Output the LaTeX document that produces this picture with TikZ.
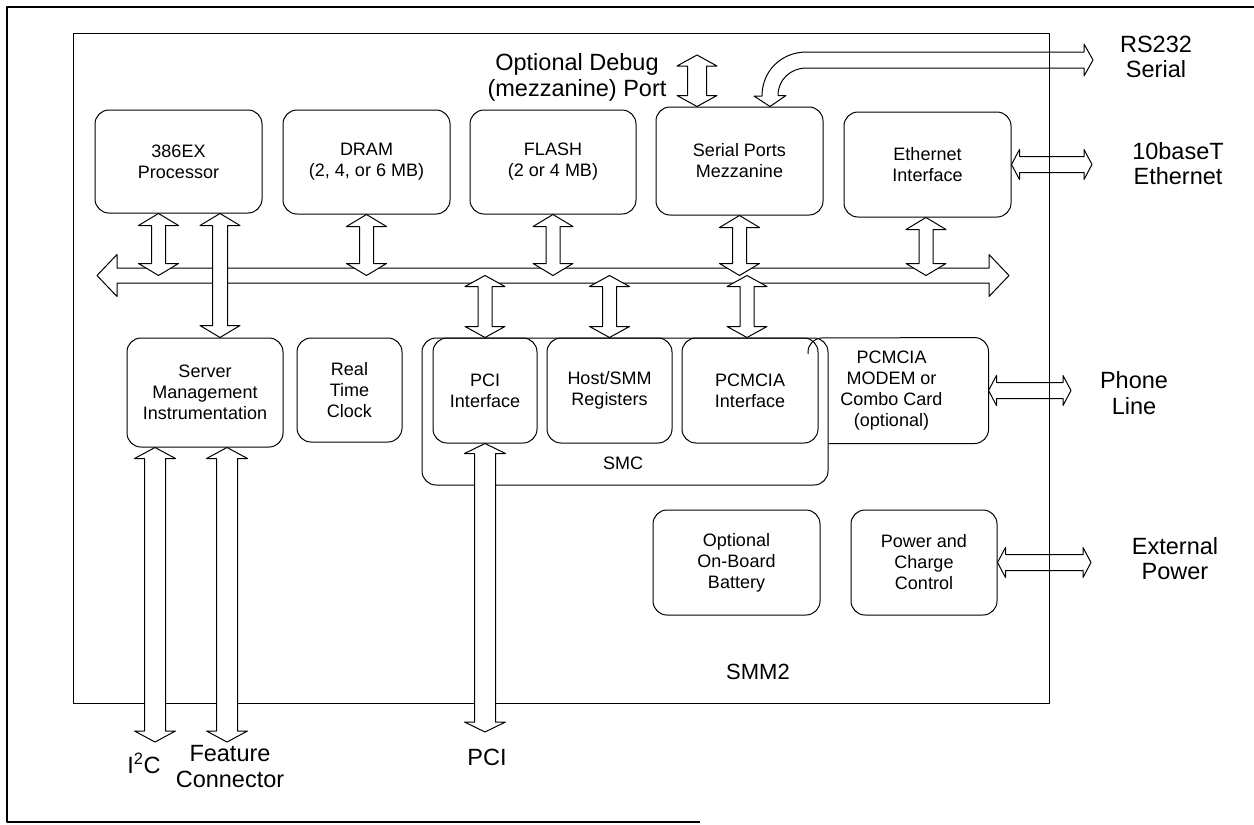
\documentclass[tikz,border=0pt]{standalone}
\usepackage{fontspec}
\setmainfont{Liberation Sans}
\usetikzlibrary{calc}
\newcommand\boxfont{\fontsize{18}{21}\selectfont}
\newcommand\bigfont{\fontsize{23.5}{25.5}\selectfont}
% vertical double hollow arrow: #2 top point (gives x and y), #3 bottom point (gives y)
% #4 shaft half width, #5 head half width, #6 head length
\newcommand\vbiarrow[6][]{\draw[hollow,#1] let \p1=#2, \p2=#3 in
  (\x1,\y1) -- (\x1+#5pt,\y1-#6pt) -- (\x1+#4pt,\y1-#6pt) -- (\x1+#4pt,\y2+#6pt)
  -- (\x1+#5pt,\y2+#6pt) -- (\x1,\y2) -- (\x1-#5pt,\y2+#6pt) -- (\x1-#4pt,\y2+#6pt)
  -- (\x1-#4pt,\y1-#6pt) -- (\x1-#5pt,\y1-#6pt) -- cycle;}
% horizontal double hollow arrow: #2 left point (gives x and y), #3 right point (gives x)
\newcommand\hbiarrow[6][]{\draw[hollow,#1] let \p1=#2, \p2=#3 in
  (\x1,\y1) -- (\x1+#6pt,\y1+#5pt) -- (\x1+#6pt,\y1+#4pt) -- (\x2-#6pt,\y1+#4pt)
  -- (\x2-#6pt,\y1+#5pt) -- (\x2,\y1) -- (\x2-#6pt,\y1-#5pt) -- (\x2-#6pt,\y1-#4pt)
  -- (\x1+#6pt,\y1-#4pt) -- (\x1+#6pt,\y1-#5pt) -- cycle;}
\begin{document}
\begin{tikzpicture}[x=1pt,y=-1pt,line join=round,
  box/.style={draw,line width=1pt,rounded corners=14pt,align=center,font=\boxfont,inner sep=0pt},
  lbl/.style={align=center,font=\bigfont,inner sep=0pt},
  hollow/.style={draw,line width=1pt,fill=white},
  open/.style={fill=none}]
\useasboundingbox (0,0) rectangle (1254,825);
% outer scan frame
\draw[line width=2pt] (1254,7) -- (7,7) -- (7,822) -- (700,822);
% SMM2 frame
\node[draw,line width=1pt,minimum width=976pt,minimum height=670pt,inner sep=0pt] (frame) at (561,368) {};
\node[lbl,font=\fontsize{22}{24}\selectfont] (smm2) at (758,672) {SMM2};

% top row
\node[box,minimum width=167pt,minimum height=103pt] (cpu) at (178.5,161.5) {386EX\\Processor};
\node[box,minimum width=167pt,minimum height=104pt] (dram) at (366.5,162) {DRAM\\(2, 4, or 6 MB)};
\node[box,minimum width=166pt,minimum height=104pt] (flash) at (553,162) {FLASH\\(2 or 4 MB)};
\node[box,minimum width=167pt,minimum height=108pt] (serial) at (739.5,161) {Serial Ports\\Mezzanine};
\node[box,minimum width=167pt,minimum height=105pt] (eth) at (927.5,164.5) {Ethernet\\Interface};

% second row
\node[box,minimum width=156pt,minimum height=109pt] (smi) at (205,392.5) {Server\\Management\\Instrumentation};
\node[box,minimum width=105pt,minimum height=104pt] (rtc) at (349.5,390) {Real\\Time\\Clock};
\node[box,minimum width=406pt,minimum height=147pt] (smc) at (625,411.5) {};
\node[font=\boxfont,inner sep=0pt] (smclabel) at (623,463) {SMC};
\node[box,minimum width=104pt,minimum height=105pt] (pci) at (485,390.5) {PCI\\Interface};
\node[box,minimum width=125pt,minimum height=105pt] (host) at (609.5,390.5) {Host/SMM\\Registers};
\node[box,minimum width=136pt,minimum height=105pt] (pcm) at (750,390.5) {PCMCIA\\Interface};
\node[box,draw=none,minimum width=193pt,minimum height=105pt] (modem) at (891.5,390.5) {PCMCIA\\MODEM or\\Combo Card\\(optional)};
\draw[line width=1pt,rounded corners=14pt] (smc.east |- modem.south) -- (modem.south east) -- (modem.north east) -- (808,338) -- (808,354);

% third row
\node[box,minimum width=167pt,minimum height=105pt] (bat) at (736.5,562.5) {Optional\\On-Board\\Battery};
\node[box,minimum width=146pt,minimum height=105pt] (pwr) at (924,562.5) {Power and\\Charge\\Control};

% external labels
\node[lbl] (debug) at (577,77.5) {Optional Debug\\(mezzanine) Port};
\node[lbl] (rs232) at (1156,57) {RS232\\Serial};
\node[lbl] (ethl) at (1178,163.5) {10baseT\\Ethernet};
\node[lbl] (phone) at (1134,393) {Phone\\Line};
\node[lbl] (extp) at (1175,558.5) {External\\Power};
\node[lbl] (i2c) at (144,763) {I\textsuperscript{2}C};
\node[lbl] (feat) at (230,766.5) {Feature\\Connector};
\node[lbl] (pcil) at (487,757) {PCI};

% free ends
\coordinate (busL) at (97,275.5);
\coordinate (busR) at (1009,275.5);
\coordinate (dbgTop) at (697,55);
\coordinate (i2cEnd) at (155,742);
\coordinate (featEnd) at (227,742);
\coordinate (pciEnd) at (484,732);

% internal bus
\hbiarrow{(busL)}{(busR)}{7.5}{21}{20}
% box <-> bus
\vbiarrow{([xshift=-20pt]cpu.south)}{(busL)}{7}{20}{12}
\vbiarrow{(dram.south)}{(busL)}{7}{20}{12}
\vbiarrow{(flash.south)}{(busL)}{7}{20}{12}
\vbiarrow{(serial.south)}{(busL)}{7}{20}{12}
\vbiarrow{([xshift=-1.5pt]eth.south)}{(busL)}{7}{20}{12}
\vbiarrow{(pci.north |- busL)}{(pci.north)}{7}{20}{11}
\vbiarrow{(host.north |- busL)}{(host.north)}{7}{20}{11}
\vbiarrow{([xshift=-3pt]pcm.north |- busL)}{(pcm.north)}{7}{20}{11}
\vbiarrow{([xshift=41.5pt]cpu.south)}{(smi.north)}{7.5}{20}{12}
% long vertical arrows
\vbiarrow{([xshift=-50pt]smi.south)}{(i2cEnd)}{10.5}{20.5}{11}
\vbiarrow{([xshift=22pt]smi.south)}{(featEnd)}{10.5}{20.5}{11}
\vbiarrow{(pci.south)}{(pciEnd)}{10.5}{20.5}{10}
\vbiarrow{(dbgTop)}{(serial.north)}{9.5}{20}{11}
% right-side external arrows
\hbiarrow[open]{(eth.east)}{(1092,165)}{8}{15}{8}
\hbiarrow[open]{(modem.east)}{(1071,390.5)}{8}{15}{8}
\hbiarrow[open]{(pwr.east)}{(1091,562.5)}{8}{15}{8}
% RS232 curved arrow
\draw[line width=1pt] ([xshift=30.5pt]serial.north) -- ++(16,-11) -- ++(-8,0)
  .. controls (778,80) and (790,68) .. (807,68) -- (1084,68) -- (1084,76) -- (1093,60)
  -- (1084,44) -- (1084,52) -- (807,52) .. controls (780,52) and (762,72) .. (762,96)
  -- (754,96) -- cycle;
\end{tikzpicture}
\end{document}
